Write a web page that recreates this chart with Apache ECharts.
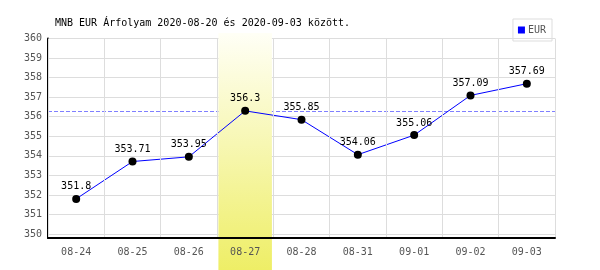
<!DOCTYPE html>
<html><head><meta charset="utf-8">
<script src="https://cdn.jsdelivr.net/npm/echarts@6/dist/echarts.min.js"></script>
<style>html,body{margin:0;padding:0;background:#fff}#c{width:600px;height:270px}</style>
</head><body><div id="c"></div>
<script>
const categories = ['08-24','08-25','08-26','08-27','08-28','08-31','09-01','09-02','09-03'];
const eurValues = [351.8, 353.71, 353.95, 356.3, 355.85, 354.06, 355.06, 357.09, 357.69];
const highlightDate = '08-27';
const refLineValue = 356.3;
const titleText = 'MNB EUR Árfolyam 2020-08-20 és 2020-09-03 között.';
const seriesName = 'EUR';

const bandData = categories.map(c => c === highlightDate ? 1 : null);
const mono = 'DejaVu Sans Mono';

const chart = echarts.init(document.getElementById('c'), null, {renderer: 'canvas'});
chart.setOption({
  animation: false,
  backgroundColor: '#fff',
  title: {
    text: titleText, left: 50, top: 13,
    textStyle: {fontFamily: mono, fontSize: 10, fontWeight: 'normal', color: '#000'}
  },
  legend: {
    data: [{name: seriesName, icon: 'rect', itemStyle: {color: '#0000ff'}}],
    right: 48, top: 19, padding: [6, 6, 6, 5],
    itemWidth: 7, itemHeight: 7, itemGap: 4,
    borderColor: '#dddddd', borderWidth: 1,
    textStyle: {fontFamily: mono, fontSize: 10, color: '#555', padding: [0, 0, 0, -2]}
  },
  grid: [
    {left: 48, right: 45, top: 38.5, bottom: 32},
    {left: 48, right: 45, top: 33, bottom: 0}
  ],
  xAxis: [{
    type: 'category', data: categories, boundaryGap: true, z: 5,
    axisLine: {lineStyle: {color: '#000', width: 2}},
    axisTick: {show: false},
    axisLabel: {fontFamily: mono, fontSize: 10, color: '#555', margin: 9},
    splitLine: {show: true, lineStyle: {color: '#dddddd', width: 1}}
  }, {
    type: 'category', data: categories, gridIndex: 1, show: false
  }],
  yAxis: [{
    type: 'value', min: 349.8, max: 360, splitNumber: 10, minInterval: 1, maxInterval: 1, z: 0,
    axisLine: {show: true, lineStyle: {color: '#000', width: 2}},
    axisTick: {show: false},
    axisLabel: {fontFamily: mono, fontSize: 10, color: '#555', margin: 6, showMinLabel: false,
      formatter: v => (Math.abs(v - Math.round(v)) < 1e-6 ? String(Math.round(v)) : '')},
    splitLine: {show: true, lineStyle: {color: '#dddddd', width: 1}}
  }, {
    type: 'value', gridIndex: 1, min: 0, max: 1, show: false
  }],
  series: [{
    name: 'band', type: 'bar', xAxisIndex: 1, yAxisIndex: 1, data: bandData,
    barWidth: '95%', z: 2, silent: true,
    itemStyle: {color: new echarts.graphic.LinearGradient(0, 0, 0, 1, [
      {offset: 0, color: '#fffff6'}, {offset: 1, color: '#eeee66'}
    ])}
  }, {
    name: seriesName, type: 'line', data: eurValues, z: 4,
    symbol: 'circle', symbolSize: 8,
    lineStyle: {color: '#0000ff', width: 1},
    itemStyle: {color: '#000'},
    label: {show: true, position: 'top', distance: 3, fontFamily: mono, fontSize: 10, color: '#000'},
    markLine: {
      z: 1, silent: true, symbol: 'none', label: {show: false},
      lineStyle: {color: '#7f7fff', type: [4, 2], width: 1, opacity: 1},
      data: [{yAxis: refLineValue}]
    }
  }]
});
</script></body></html>
